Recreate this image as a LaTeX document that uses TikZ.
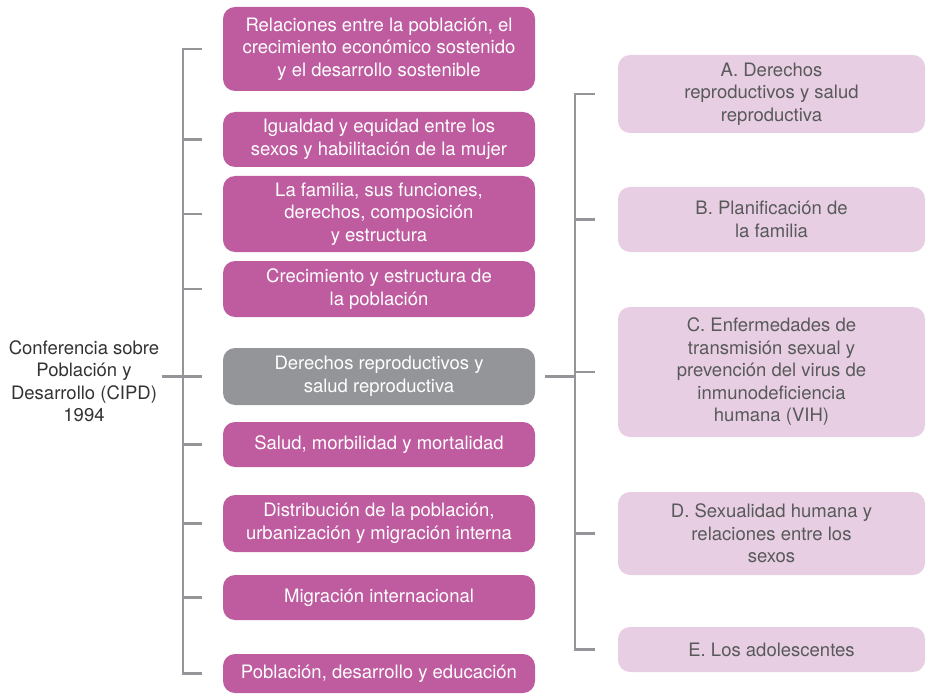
\documentclass[tikz,border=0pt]{standalone}
\usepackage{fontspec}
\setmainfont{TeX Gyre Heros}
\usetikzlibrary{positioning}
\definecolor{cipdmag}{HTML}{BF5CA0}
\definecolor{cipdgris}{HTML}{939598}
\definecolor{cipdrosa}{HTML}{E8CEE2}
\definecolor{cipdtexto}{HTML}{58595B}
\definecolor{cipdlinea}{HTML}{939598}
\tikzset{
  tema/.style={rounded corners=12pt, fill=cipdmag, text=white, minimum width=312pt,
    align=center, inner sep=0pt, font=\fontsize{18.5}{22.5}\selectfont},
  capitulo/.style={tema, fill=cipdrosa, text=cipdtexto, minimum width=307pt},
  rama/.style={draw=cipdlinea, line width=2.6pt},
}
\begin{document}
\begin{tikzpicture}[x=1pt,y=-1pt]
  \useasboundingbox (0,0) rectangle (926,695);
  \coordinate (lspine) at (183,0);
  \coordinate (rspine) at (575,0);

  \node [tema, minimum height=84pt] (rel) at (379,49) {Relaciones entre la población, el\\crecimiento económico sostenido\\y el desarrollo sostenible};
  \node [tema, minimum height=55pt] (igual) at (379,139.5) {Igualdad y equidad entre los\\sexos y habilitación de la mujer};
  \node [tema, minimum height=76pt] (fam) at (379,214) {La familia, sus funciones,\\derechos, composición\\y estructura};
  \node [tema, minimum height=56pt] (crec) at (379,289) {Crecimiento y estructura de\\la población};
  \node [tema, fill=cipdgris, minimum height=57pt] (der) at (379,376.5) {Derechos reproductivos y\\salud reproductiva};
  \node [tema, minimum height=45pt] (salud) at (379,444.5) {Salud, morbilidad y mortalidad};
  \node [tema, minimum height=57pt] (distr) at (379,523.5) {Distribución de la población,\\urbanización y migración interna};
  \node [tema, minimum height=45pt] (migr) at (379,597.5) {Migración internacional};
  \node [tema, minimum height=39pt] (pobl) at (379,673.5) {Población, desarrollo y educación};

  \node [align=center, inner sep=3pt, text=black!80, font=\fontsize{18.5}{22.5}\selectfont] (conf) at (84,381) {Conferencia sobre\\Población y\\Desarrollo (CIPD)\\1994};

  \node [capitulo, minimum height=78pt] (rA) at (771.5,94) {A. Derechos\\reproductivos y salud\\reproductiva};
  \node [capitulo, minimum height=65pt] (rB) at (771.5,219.5) {B. Planificación de\\la familia};
  \node [capitulo, minimum height=130pt] (rC) at (771.5,372) {C. Enfermedades de\\transmisión sexual y\\prevención del virus de\\inmunodeficiencia\\humana (VIH)};
  \node [capitulo, minimum height=83pt] (rD) at (771.5,533.5) {D. Sexualidad humana y\\relaciones entre los\\sexos};
  \node [capitulo, minimum height=45pt] (rE) at (771.5,649.5) {E. Los adolescentes};

  \draw [rama] ([xshift=-21pt]rel.west) -- (rel.west -| lspine) -- (pobl.west -| lspine) -- ([xshift=-21pt]pobl.west);
  \foreach \n in {igual,fam,crec,der,salud,distr,migr}
    \draw [rama] (\n.west -| lspine) -- ([xshift=-21pt]\n.west);
  \draw [rama] (conf.east |- der.west) -- (der.west -| lspine);

  \draw [rama] ([xshift=-23pt]rA.west) -- (rA.west -| rspine) -- (rE.west -| rspine) -- ([xshift=-23pt]rE.west);
  \foreach \n in {rB,rC,rD}
    \draw [rama] (\n.west -| rspine) -- ([xshift=-23pt]\n.west);
  \draw [rama] ([xshift=10pt]der.east) -- (der.east -| rspine);
\end{tikzpicture}
\end{document}
